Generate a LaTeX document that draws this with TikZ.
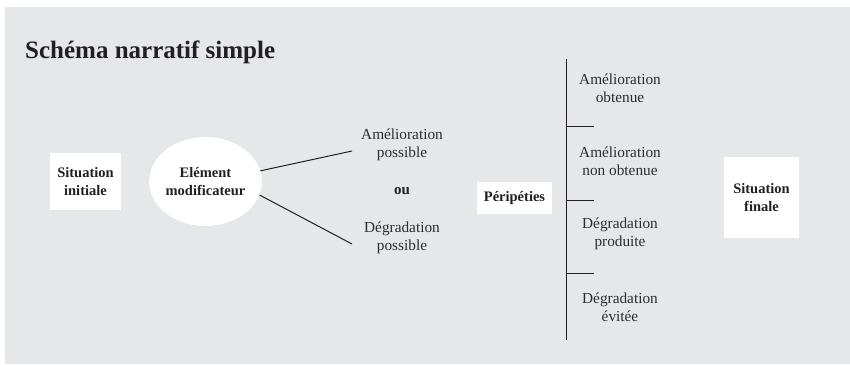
\documentclass[tikz,border=0pt]{standalone}
\usepackage{fontspec}
\setmainfont{Liberation Serif}
\usetikzlibrary{shapes.geometric}
\definecolor{bggray}{RGB}{230,231,233}
\definecolor{ink}{RGB}{35,31,32}
\definecolor{soft}{RGB}{45,45,47}
\tikzset{
  boldbox/.style={fill=white, inner sep=0pt, align=center, text=ink,
    font=\fontsize{14.5}{18}\selectfont\bfseries},
  lbl/.style={inner sep=0pt, align=center, text=soft,
    font=\fontsize{15.3}{18}\selectfont},
  conn/.style={draw=ink, line width=1pt},
}
\begin{document}
\begin{tikzpicture}[x=1pt,y=-1pt]
\useasboundingbox (0,0) rectangle (850,364);
\fill[bggray] (5,7) rectangle (850,364);

\node[anchor=base west, inner sep=0pt, text=ink,
  font=\fontsize{25}{30}\selectfont\bfseries] (title) at (25,58) {Schéma narratif simple};

\node[boldbox, minimum width=71pt, minimum height=57pt] (si) at (85.5,181.5) {Situation\\initiale};
\node[boldbox, ellipse, minimum width=107pt, minimum height=89pt] (elem) at (205.5,181.5) {Elément\\modificateur};

\node[lbl] (ampos) at (402,145) {Amélioration\\possible};
\node[lbl, anchor=base, text=ink, font=\fontsize{15}{18}\selectfont\bfseries] (ou) at (402,194) {ou};
\node[lbl] (degpos) at (402,238) {Dégradation\\possible};

\coordinate (e1) at (352,151);
\coordinate (e2) at (352,244);
\draw[conn] (elem.11) -- (e1);
\draw[conn] (elem.-14) -- (e2);

\node[boldbox, minimum width=75pt, minimum height=32pt] (peri) at (514.5,198) {Péripéties};

\coordinate (vtop) at (566,59);
\coordinate (vbot) at (566,340);
\draw[conn] (vtop) -- (vbot);
\coordinate (t1) at (566,126);
\coordinate (t2) at (566,200);
\coordinate (t3) at (566,273);
\draw[conn] (t1) -- ++(28,0);
\draw[conn] (t2) -- ++(28,0);
\draw[conn] (t3) -- ++(28,0);

\node[lbl] (amob) at (620,88) {Amélioration\\obtenue};
\node[lbl] (amnon) at (620,161) {Amélioration\\non obtenue};
\node[lbl] (degpro) at (620,234) {Dégradation\\produite};
\node[lbl] (degevi) at (620,307) {Dégradation\\évitée};

\node[boldbox, minimum width=75pt, minimum height=81pt] (sf) at (761.5,197.5) {Situation\\finale};
\end{tikzpicture}
\end{document}
